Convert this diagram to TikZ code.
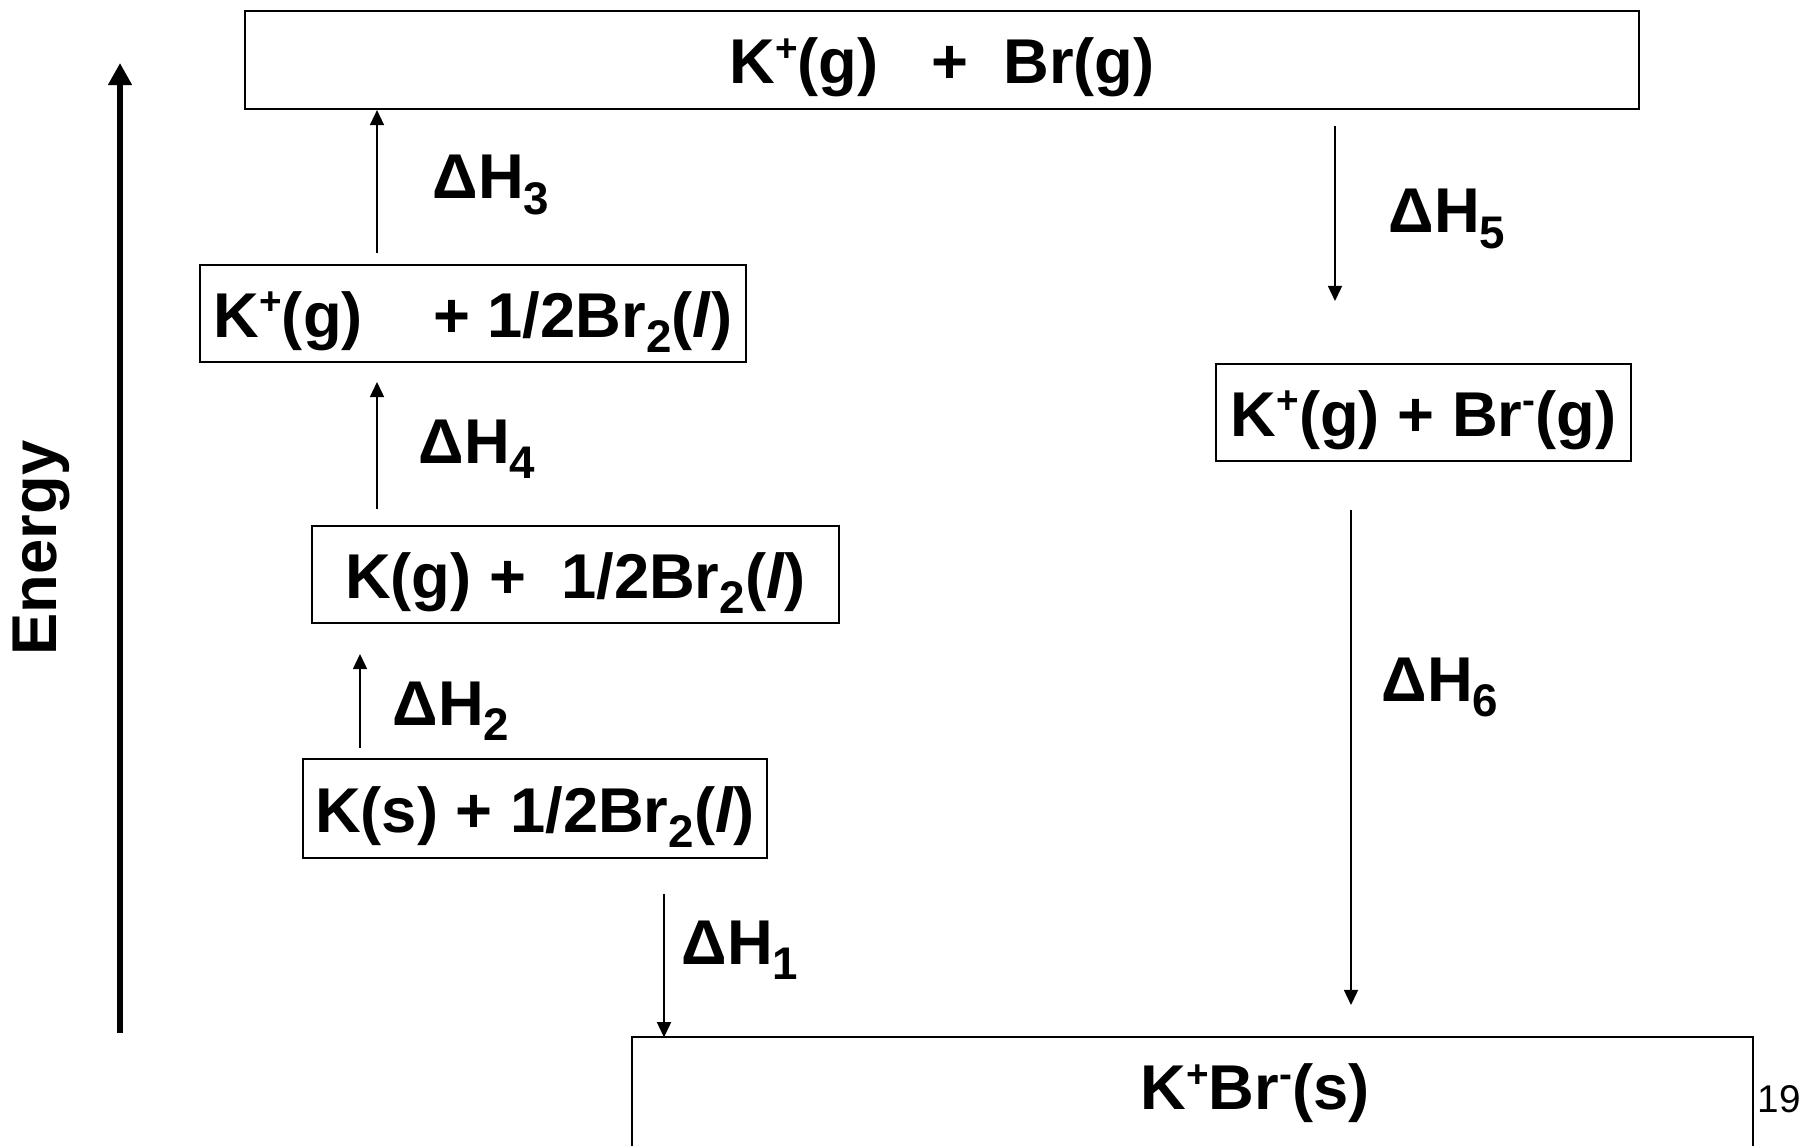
\documentclass[tikz,border=0pt]{standalone}
\usepackage{fontspec}
\setmainfont{Liberation Sans}
\usetikzlibrary{arrows.meta}
\newcommand{\sbs}[1]{\raisebox{-0.24em}{\fontsize{13}{13}\selectfont #1}}
\newcommand{\sps}[1]{\raisebox{0.36em}{\fontsize{11}{11}\selectfont #1}}
\begin{document}
\begin{tikzpicture}[x=0.01cm,y=-0.01cm]
\tikzset{
  bigfont/.style={font=\fontsize{18}{21}\selectfont\bfseries},
  lvl/.style={draw, line width=0.6pt, inner sep=0pt, bigfont, text height=17pt, text depth=3.4pt},
  stp/.style={-{Triangle[length=4.3pt,width=4pt]}, line width=0.45pt},
  dh/.style={anchor=base west, inner sep=0pt, bigfont},
}
\useasboundingbox (0,0) rectangle (1800,1146);

% levels
\node[lvl, minimum width=13.94cm, minimum height=0.98cm] (top) at (942,60) {K\sps{+}(g)\ \ \ +\ \ Br(g)};
\node[lvl, minimum width=5.46cm, minimum height=0.97cm] (kpbr2) at (473,313.5) {K\sps{+}(g)\ \ \ \ + 1/2Br\sbs{2}(\textit{l})};
\node[lvl, minimum width=5.27cm, minimum height=0.97cm] (kgbr2) at (575.5,574.5) {K(g) +\ \ 1/2Br\sbs{2}(\textit{l})};
\node[lvl, minimum width=4.64cm, minimum height=0.99cm] (ksbr2) at (535,808.5) {K(s) + 1/2Br\sbs{2}(\textit{l})};
\node[lvl, minimum width=4.15cm, minimum height=0.97cm] (kpbrm) at (1423.5,412.5) {K\sps{+}(g) + Br\sps{-}(g)};
\node[draw=none, inner sep=0pt, minimum width=11.19cm, minimum height=1.08cm] (kbr) at (1192.5,1092) {};
\draw[line width=0.6pt] (kbr.south west) |- (kbr.north east) -- (kbr.south east);
\node[lvl, draw=none] (kbrt) at (1255,1086) {K\sps{+}Br\sps{-}(s)};

% energy axis
\coordinate (e0) at (120,1033);
\coordinate (e1) at (120,63);
\draw[line width=1.5pt, -{Triangle[length=6.3pt,width=6.5pt]}] (e0) -- (e1);
\node[rotate=90, anchor=base, inner sep=0pt, bigfont] (en) at (57,548) {Energy};

% steps
\coordinate (a3s) at (377,253);
\draw[stp] (a3s) -- (a3s |- top.south);
\coordinate (a4s) at (377,509); \coordinate (a4e) at (377,382);
\draw[stp] (a4s) -- (a4e);
\coordinate (a2s) at (360,748); \coordinate (a2e) at (360,654);
\draw[stp] (a2s) -- (a2e);
\coordinate (a1s) at (664,894);
\draw[stp] (a1s) -- (a1s |- kbr.north);
\coordinate (a5s) at (1335,126); \coordinate (a5e) at (1335,301);
\draw[stp] (a5s) -- (a5e);
\coordinate (a6s) at (1351,510); \coordinate (a6e) at (1351,1005);
\draw[stp] (a6s) -- (a6e);

% labels
\node[dh] (l3) at (432,199) {ΔH\sbs{3}};
\node[dh] (l4) at (418,463) {ΔH\sbs{4}};
\node[dh] (l2) at (392,725) {ΔH\sbs{2}};
\node[dh] (l1) at (681,964) {ΔH\sbs{1}};
\node[dh] (l5) at (1388,233) {ΔH\sbs{5}};
\node[dh] (l6) at (1381,701) {ΔH\sbs{6}};

\node[anchor=base west, inner sep=0pt, font=\fontsize{11}{13}\selectfont] (pg) at (1757,1112) {19};
\end{tikzpicture}
\end{document}
